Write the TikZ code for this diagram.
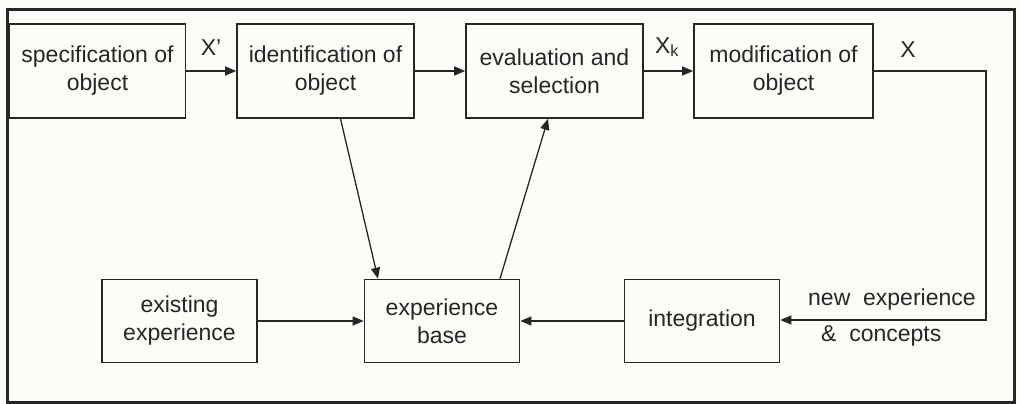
\documentclass[tikz,border=0pt]{standalone}
\usepackage{fontspec}
\setmainfont{Liberation Sans}
\usetikzlibrary{arrows.meta,calc}
\definecolor{ink}{HTML}{262626}
\definecolor{paper}{HTML}{FCFCF8}
\begin{document}
\begin{tikzpicture}[x=1pt,y=-1pt,
  box/.style={draw=ink,line width=1.6pt,align=center,text=ink,inner sep=0pt,
    font=\fontsize{23}{28}\selectfont},
  topbox/.style={box,minimum height=94pt},
  botbox/.style={box,minimum height=83pt,minimum width=155pt},
  arr/.style={draw=ink,line width=1.3pt,-{Triangle[length=11pt,width=9pt]}},
  lbl/.style={text=ink,font=\fontsize{23}{28}\selectfont,inner sep=0pt}]
\useasboundingbox[fill=paper] (0,0) rectangle (1020,404);
\draw[ink,line width=3pt] (7,10) rectangle (1014,402);
% top row
\node[topbox,minimum width=176pt] (spec) at (97.5,71) {specification of\\object};
\node[topbox,minimum width=177pt] (ident) at (325.5,71) {identification of\\object};
\node[topbox,minimum width=177pt] (eval) at (554.5,71) {evaluation and\\selection};
\node[topbox,minimum width=179pt] (modif) at (783.5,71) {modification of\\object};
% bottom row
\node[botbox] (exist) at (179.5,321) {existing\\experience};
\node[botbox] (base) at (442,321) {experience\\base};
\node[botbox] (integ) at (702,321) {integration};
% labels
\node[lbl] (lx1) at (211,48) {X'};
\node[lbl] (lxk) at (667,47) {X\textsubscript{k}};
\node[lbl] (lx) at (908,50) {X};
\node[lbl,anchor=west] (lnew) at (808,300) {new\ \ experience};
\node[lbl,anchor=west] (lcon) at (821,336) {\&\ \ concepts};
% connectors
\coordinate (c1) at (986,71);
\coordinate (c2) at (986,320);
\draw[arr] (spec.east) -- (ident.west);
\draw[arr] (ident.east) -- (eval.west);
\draw[arr] (eval.east) -- (modif.west);
\draw[arr] (modif.east) -- (c1) -- (c2) -- (integ.east |- c2);
\draw[arr] (integ.west) -- (base.east);
\draw[arr] (exist.east) -- (base.west);
\draw[arr] ($(ident.south)+(15,0)$) -- ($(base.north)+(-64,0)$);
\draw[arr] ($(base.north)+(58,0)$) -- ($(eval.south)+(-6.5,0)$);
\end{tikzpicture}
\end{document}
